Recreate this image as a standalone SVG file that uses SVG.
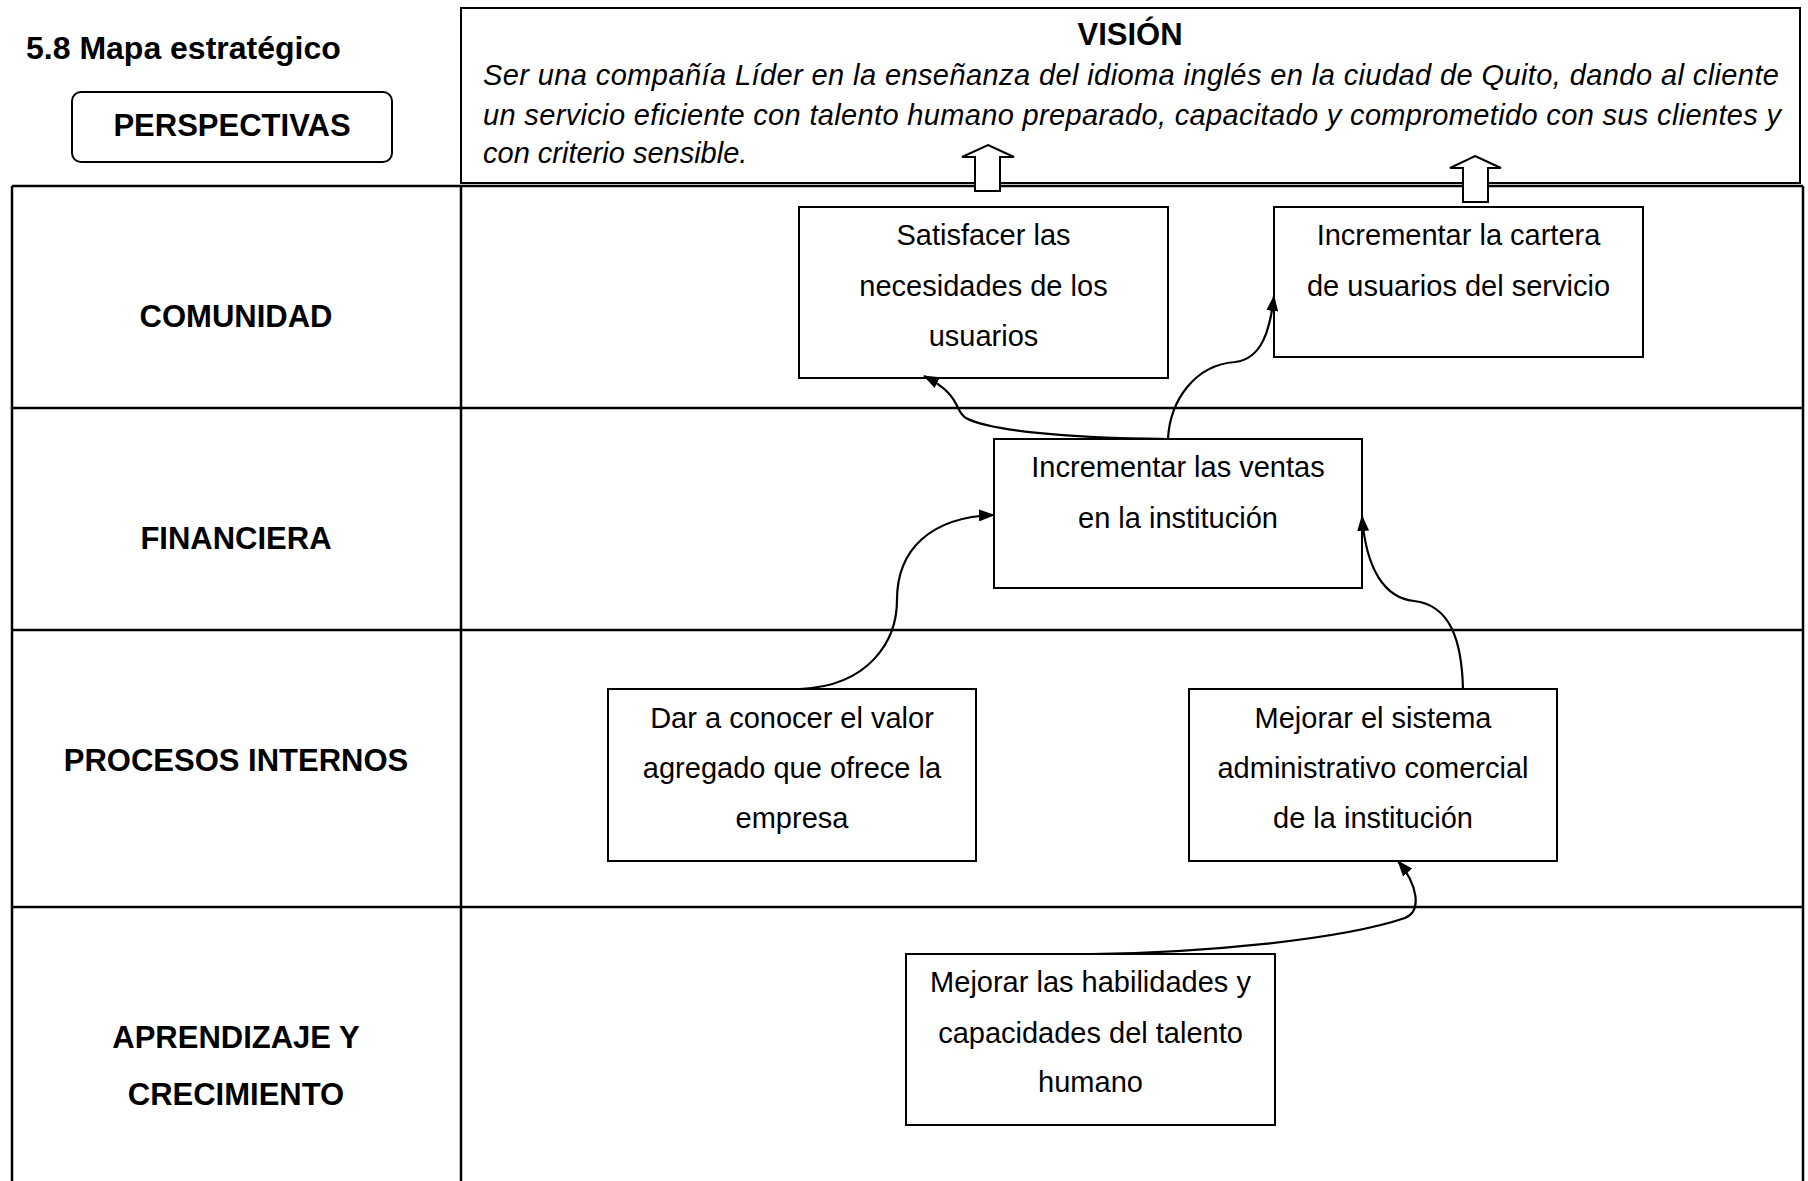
<svg xmlns="http://www.w3.org/2000/svg" width="1808" height="1181" viewBox="0 0 1808 1181">
  <style>
    .grid { stroke: #000; stroke-width: 2.5; fill: none; }
    .box { fill: #fff; stroke: #000; stroke-width: 2; }
    .lbl { font-family: "Liberation Sans", Arial, sans-serif; font-weight: bold; font-size: 31px; fill: #000; text-anchor: middle; }
    .txt { font-family: "Liberation Sans", Arial, sans-serif; font-size: 29px; fill: #000; text-anchor: middle; }
    .vis { font-family: "Liberation Sans", Arial, sans-serif; font-style: italic; font-size: 29px; fill: #000; }
    .conn { fill: none; stroke: #000; stroke-width: 2.2; marker-end: url(#ah); }
    .blk { fill: #fff; stroke: #000; stroke-width: 2; }
  </style>
  <defs>
    <marker id="ah" viewBox="0 0 16 12" refX="15" refY="6" markerWidth="16" markerHeight="12" markerUnits="userSpaceOnUse" orient="auto">
      <path d="M0,0 L16,6 L0,12 Z" fill="#000"/>
    </marker>
  </defs>
  <rect width="1808" height="1181" fill="#fff"/>

  <g id="title">
    <text x="26" y="59" font-family="Liberation Sans, Arial, sans-serif" font-weight="bold" font-size="32">5.8 Mapa estratégico</text>
  </g>

  <g id="perspectivas">
    <rect x="72" y="92" width="320" height="70" rx="9" ry="9" class="box"/>
    <text x="232" y="136" class="lbl">PERSPECTIVAS</text>
  </g>

  <g id="table">
    <line x1="12" y1="186" x2="1803" y2="186" class="grid"/>
    <line x1="12" y1="186" x2="12" y2="1185" class="grid"/>
    <line x1="461" y1="186" x2="461" y2="1185" class="grid"/>
    <line x1="1803" y1="186" x2="1803" y2="1185" class="grid"/>
    <line x1="12" y1="408" x2="1803" y2="408" class="grid"/>
    <line x1="12" y1="630" x2="1803" y2="630" class="grid"/>
    <line x1="12" y1="907" x2="1803" y2="907" class="grid"/>
  </g>

  <g id="row-comunidad"><text x="236" y="327" class="lbl">COMUNIDAD</text></g>
  <g id="row-financiera"><text x="236" y="549" class="lbl">FINANCIERA</text></g>
  <g id="row-procesos"><text x="236" y="771" class="lbl">PROCESOS INTERNOS</text></g>
  <g id="row-aprendizaje">
    <text x="236" y="1048" class="lbl">APRENDIZAJE Y</text>
    <text x="236" y="1105" class="lbl">CRECIMIENTO</text>
  </g>

  <g id="vision">
    <rect x="461" y="8" width="1339" height="175" class="box"/>
    <text x="1130" y="45" class="lbl" font-size="29">VISIÓN</text>
    <text x="483" y="85" class="vis" textLength="1296" lengthAdjust="spacing">Ser una compañía Líder en la enseñanza del idioma inglés en la ciudad de Quito, dando al cliente</text>
    <text x="483" y="125" class="vis" textLength="1298" lengthAdjust="spacing">un servicio eficiente con talento humano preparado, capacitado y comprometido con sus clientes y</text>
    <text x="483" y="163" class="vis">con criterio sensible.</text>
  </g>

  <g id="vision-arrows">
    <polygon points="988,145 1014,157 1000,157 1000,191 975,191 975,157 962,157" class="blk"/>
    <polygon points="1475,156 1501,168 1488,168 1488,202 1463,202 1463,168 1450,168" class="blk"/>
  </g>

  <g id="n-satisfacer">
    <rect x="799" y="207" width="369" height="171" class="box"/>
    <text x="983.5" y="245" class="txt">Satisfacer las</text>
    <text x="983.5" y="296" class="txt">necesidades de los</text>
    <text x="983.5" y="346" class="txt">usuarios</text>
  </g>

  <g id="n-cartera">
    <rect x="1274" y="207" width="369" height="150" class="box"/>
    <text x="1458.5" y="245" class="txt">Incrementar la cartera</text>
    <text x="1458.5" y="296" class="txt">de usuarios del servicio</text>
  </g>

  <g id="n-ventas">
    <rect x="994" y="439" width="368" height="149" class="box"/>
    <text x="1178" y="477" class="txt">Incrementar las ventas</text>
    <text x="1178" y="528" class="txt">en la institución</text>
  </g>

  <g id="n-valor">
    <rect x="608" y="689" width="368" height="172" class="box"/>
    <text x="792" y="728" class="txt">Dar a conocer el valor</text>
    <text x="792" y="778" class="txt">agregado que ofrece la</text>
    <text x="792" y="828" class="txt">empresa</text>
  </g>

  <g id="n-sistema">
    <rect x="1189" y="689" width="368" height="172" class="box"/>
    <text x="1373" y="728" class="txt">Mejorar el sistema</text>
    <text x="1373" y="778" class="txt">administrativo comercial</text>
    <text x="1373" y="828" class="txt">de la institución</text>
  </g>

  <g id="n-habilidades">
    <rect x="906" y="954" width="369" height="171" class="box"/>
    <text x="1090.5" y="992" class="txt">Mejorar las habilidades y</text>
    <text x="1090.5" y="1043" class="txt">capacidades del talento</text>
    <text x="1090.5" y="1092" class="txt">humano</text>
  </g>

  <g id="connectors">
    <path d="M1168,439 C1060,438 988,430 966,418 C954,411 962,395 924,376" class="conn"/>
    <path d="M1168,439 C1170,400 1195,365 1235,362 C1262,359 1270,330 1274,296" class="conn"/>
    <path d="M800,689 C870,686 897,640 897,600 C897,550 930,517 994,515" class="conn"/>
    <path d="M1463,690 C1462,640 1450,605 1414,601 C1385,598 1366,570 1362,516" class="conn"/>
    <path d="M1091,954 C1200,953 1340,940 1405,918 C1422,911 1418,885 1398,861" class="conn"/>
  </g>
</svg>
